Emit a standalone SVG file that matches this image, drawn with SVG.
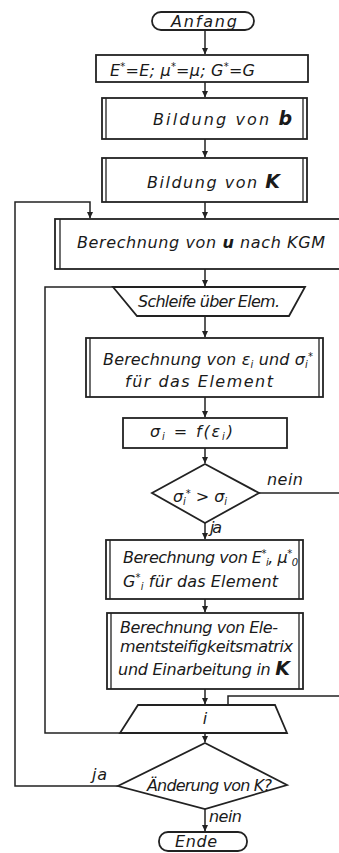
<svg xmlns="http://www.w3.org/2000/svg" width="339" height="853" viewBox="0 0 339 853">
<defs>
<marker id="ah" markerWidth="7" markerHeight="7" refX="6" refY="3.5" orient="auto" markerUnits="userSpaceOnUse"><path d="M0,0.5 L6.5,3.5 L0,6.5 z" fill="#222"/></marker>
<style>
.s{fill:none;stroke:#222;stroke-width:1.5}
.b{fill:#fff;stroke:#222;stroke-width:1.8}
.d{fill:none;stroke:#222;stroke-width:1.3}
.t{font-family:"DejaVu Sans","Liberation Sans",sans-serif;font-style:italic;font-size:16px;fill:#1a1a1a}
.c{text-anchor:middle}
.sm{font-size:10px}
.bd{font-weight:bold}
</style>
</defs>
<rect width="339" height="853" fill="#fff"/>
<g id="connectors">
<path class="s" d="M205,30 V54" marker-end="url(#ah)"/>
<path class="s" d="M205,82 V97" marker-end="url(#ah)"/>
<path class="s" d="M205,139 V157" marker-end="url(#ah)"/>
<path class="s" d="M205,202 V218" marker-end="url(#ah)"/>
<path class="s" d="M118,786 H15 V202 H90 V218" marker-end="url(#ah)"/>
<path class="s" d="M205,269 V286" marker-end="url(#ah)"/>
<path class="s" d="M120,733 H45 V287 H113"/>
<path class="s" d="M205,316 V337" marker-end="url(#ah)"/>
<path class="s" d="M205,397 V417" marker-end="url(#ah)"/>
<path class="s" d="M205,448 V463" marker-end="url(#ah)"/>
<path class="s" d="M205,523 V539" marker-end="url(#ah)"/>
<path class="s" d="M259,493 H339"/>
<path class="s" d="M205,599 V612" marker-end="url(#ah)"/>
<path class="s" d="M205,689 V704" marker-end="url(#ah)"/>
<path class="s" d="M339,696 H228 V705"/>
<path class="s" d="M205,733 V742" marker-end="url(#ah)"/>
<path class="s" d="M205,809 V831" marker-end="url(#ah)"/>
</g>
<g id="anfang">
<rect class="b" x="152" y="12" width="102" height="18" rx="9"/>
<text class="t c" x="204" y="27" font-size="15" textLength="66">Anfang</text>
</g>
<g id="init">
<rect class="b" x="96" y="55" width="212" height="27"/>
<text class="t" x="110" y="76" textLength="145">E<tspan class="sm" dy="-6">*</tspan><tspan dy="6">=E; μ</tspan><tspan class="sm" dy="-6">*</tspan><tspan dy="6">=μ; G</tspan><tspan class="sm" dy="-6">*</tspan><tspan dy="6">=G</tspan></text>
</g>
<g id="bildung-b">
<rect class="b" x="102" y="98" width="205" height="41"/>
<path class="d" d="M106,98 V139 M303,98 V139"/>
<text class="t" x="153" y="125" font-size="17" textLength="139">Bildung von <tspan class="bd" font-size="19">b</tspan></text>
</g>
<g id="bildung-k">
<rect class="b" x="102" y="158" width="205" height="44"/>
<path class="d" d="M106,158 V202 M303,158 V202"/>
<text class="t" x="147" y="188" font-size="17" textLength="133">Bildung von <tspan class="bd" font-size="19">K</tspan></text>
</g>
<g id="berechnung-u">
<rect class="b" x="55" y="219" width="300" height="50"/>
<path class="d" d="M60,219 V269"/>
<text class="t" x="77" y="248" font-size="18" textLength="248">Berechnung von <tspan class="bd">u</tspan> nach KGM</text>
</g>
<g id="schleife">
<polygon class="b" points="113,287 305,287 289,316 137,316"/>
<text class="t" x="138" y="307" font-size="15" textLength="142">Schleife über Elem.</text>
</g>
<g id="berechnung-eps">
<rect class="b" x="86" y="338" width="237" height="59"/>
<path class="d" d="M90,338 V397 M319,338 V397"/>
<text class="t" x="103" y="365" font-size="16" textLength="210">Berechnung von ε<tspan class="sm" dy="3">i</tspan><tspan dy="-3"> und σ</tspan><tspan class="sm" dy="3">i</tspan><tspan class="sm" dy="-8">*</tspan></text>
<text class="t" x="125" y="387" font-size="16" textLength="148">für das Element</text>
</g>
<g id="sigma">
<rect class="b" x="123" y="418" width="164" height="30"/>
<text class="t" x="150" y="437" font-size="16" textLength="83">σ<tspan class="sm" dy="3">i</tspan><tspan dy="-3"> = f(ε</tspan><tspan class="sm" dy="3">i</tspan><tspan dy="-3">)</tspan></text>
</g>
<g id="entscheidung-sigma">
<polygon class="b" points="205,464 259,493 205,523 152,493"/>
<text class="t" x="173" y="502" font-size="16" textLength="54">σ<tspan class="sm" dy="3">i</tspan><tspan class="sm" dy="-8">*</tspan><tspan dy="5"> &gt; σ</tspan><tspan class="sm" dy="3">i</tspan></text>
<text class="t" x="267" y="485" font-size="13" textLength="36">nein</text>
<text class="t" x="210" y="533" font-size="12" textLength="12">ja</text>
</g>
<g id="berechnung-e">
<rect class="b" x="106" y="540" width="197" height="59"/>
<path class="d" d="M110,540 V599 M299,540 V599"/>
<text class="t" x="123" y="563" font-size="16" textLength="175">Berechnung von E<tspan class="sm" dy="-6">*</tspan><tspan class="sm" dy="9">i</tspan><tspan dy="-3">, μ</tspan><tspan class="sm" dy="-6">*</tspan><tspan class="sm" dy="9">0</tspan></text>
<text class="t" x="123" y="587" font-size="16" textLength="155">G<tspan class="sm" dy="-6">*</tspan><tspan class="sm" dy="9">i</tspan><tspan dy="-3"> für das Element</tspan></text>
</g>
<g id="elementsteifigkeit">
<rect class="b" x="107" y="613" width="196" height="76"/>
<path class="d" d="M111,613 V689 M299,613 V689"/>
<text class="t" x="120" y="633" font-size="15" textLength="158">Berechnung von Ele-</text>
<text class="t" x="120" y="652" font-size="15" textLength="173">mentsteifigkeitsmatrix</text>
<text class="t" x="118" y="675" font-size="15" textLength="172">und Einarbeitung in <tspan class="bd" font-size="19">K</tspan></text>
</g>
<g id="schleifenende">
<polygon class="b" points="138,705 275,705 287,733 120,733"/>
<text class="t c" x="205" y="724" font-size="15">i</text>
</g>
<g id="entscheidung-k">
<polygon class="b" points="205,743 287,785 205,809 118,786"/>
<text class="t" x="147" y="791" font-size="14" textLength="125">Änderung von K?</text>
<text class="t" x="92" y="780" font-size="12" textLength="15">ja</text>
<text class="t" x="209" y="822" font-size="13" textLength="33">nein</text>
</g>
<g id="ende">
<rect class="b" x="159" y="832" width="88" height="19" rx="9"/>
<text class="t" x="175" y="847" font-size="15" textLength="42">Ende</text>
</g>
</svg>
